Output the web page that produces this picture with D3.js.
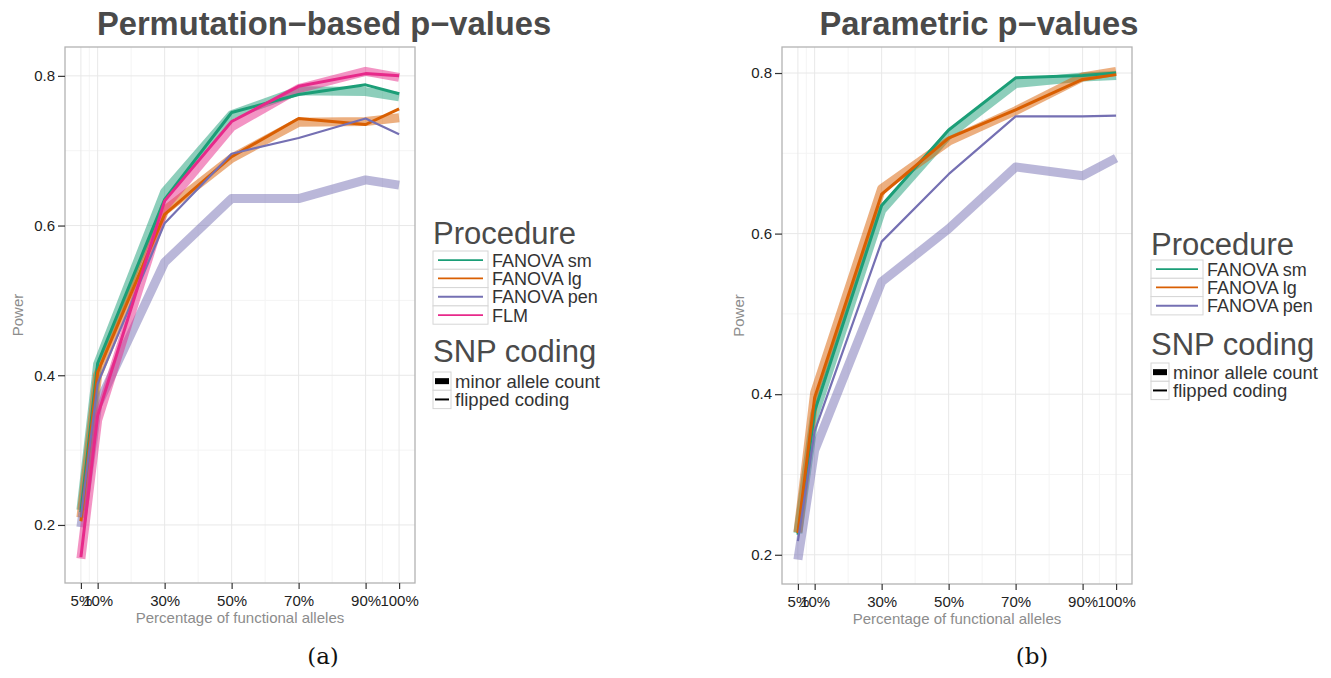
<!DOCTYPE html>
<html>
<head>
<meta charset="utf-8">
<script src="https://cdn.jsdelivr.net/npm/d3@7"></script>
<style>
  body { margin: 0; background: #fff; }
  svg { font-family: "Liberation Sans", Arial, sans-serif; }
</style>
</head>
<body>
<svg id="chart" width="1331" height="678"></svg>
<script>
// ---- data ----
const pctBreaks = [5, 10, 30, 50, 70, 90, 100];
const pctLabels = ["5%", "10%", "30%", "50%", "70%", "90%", "100%"];
const pctMinor = [7.5, 20, 40, 60, 80, 95];
const powerBreaks = [0.2, 0.4, 0.6, 0.8];
const powerMinor = [0.3, 0.5, 0.7];

const procedures = ["FANOVA sm", "FANOVA lg", "FANOVA pen", "FLM"];
const codings = ["minor allele count", "flipped coding"];

// permutation-based p-values
const permSmMinor    = [0.220, 0.415, 0.645, 0.748, 0.780, 0.779, 0.772];
const permSmFlipped  = [0.217, 0.416, 0.635, 0.751, 0.775, 0.788, 0.776];
const permLgMinor    = [0.210, 0.400, 0.620, 0.690, 0.738, 0.739, 0.744];
const permLgFlipped  = [0.205, 0.404, 0.615, 0.692, 0.743, 0.735, 0.756];
const permPenMinor   = [0.197, 0.360, 0.551, 0.636, 0.636, 0.661, 0.654];
const permPenFlipped = [0.210, 0.389, 0.603, 0.696, 0.717, 0.743, 0.722];
const permFlmMinor   = [0.155, 0.340, 0.625, 0.732, 0.783, 0.806, 0.798];
const permFlmFlipped = [0.157, 0.346, 0.633, 0.739, 0.786, 0.803, 0.800];

// parametric p-values
const paraSmMinor    = [0.227, 0.375, 0.629, 0.723, 0.787, 0.795, 0.797];
const paraSmFlipped  = [0.225, 0.379, 0.635, 0.729, 0.794, 0.797, 0.800];
const paraLgMinor    = [0.228, 0.402, 0.656, 0.715, 0.753, 0.795, 0.802];
const paraLgFlipped  = [0.227, 0.396, 0.649, 0.719, 0.754, 0.792, 0.798];
const paraPenMinor   = [0.194, 0.330, 0.540, 0.606, 0.683, 0.672, 0.694];
const paraPenFlipped = [0.217, 0.354, 0.590, 0.674, 0.746, 0.746, 0.747];

const procColors = {"FANOVA sm": "#1B9E77", "FANOVA lg": "#D95F02", "FANOVA pen": "#7570B3", "FLM": "#E7298A"};

function makeSeries(rows) {
  // rows: [procedure, coding, values]
  return rows.map(([procedure, coding, values]) => ({
    procedure, coding,
    points: values.map((v, i) => ({pct: pctBreaks[i], power: v}))
  }));
}

const permData = makeSeries([
  ["FANOVA sm", codings[0], permSmMinor], ["FANOVA lg", codings[0], permLgMinor],
  ["FANOVA pen", codings[0], permPenMinor], ["FLM", codings[0], permFlmMinor],
  ["FANOVA sm", codings[1], permSmFlipped], ["FANOVA lg", codings[1], permLgFlipped],
  ["FANOVA pen", codings[1], permPenFlipped], ["FLM", codings[1], permFlmFlipped]
]);
const paraData = makeSeries([
  ["FANOVA sm", codings[0], paraSmMinor], ["FANOVA lg", codings[0], paraLgMinor],
  ["FANOVA pen", codings[0], paraPenMinor],
  ["FANOVA sm", codings[1], paraSmFlipped], ["FANOVA lg", codings[1], paraLgFlipped],
  ["FANOVA pen", codings[1], paraPenFlipped]
]);

class PowerPanel {

  constructor(_config, _data) {
    this.config = {
      svg: _config.svg,
      left: _config.left,
      top: _config.top,
      width: _config.width,
      height: _config.height,
      title: _config.title,
      titleX: _config.titleX,
      caption: _config.caption,
      captionX: _config.captionX,
      powerX: _config.powerX,
      legend: _config.legend
    }
    this.data = _data;
    this.initVis();
  }

  initVis() {
    let vis = this;
    let c = vis.config;
    vis.g = c.svg.append('g')
        .attr('transform', `translate(${c.left},${c.top})`);

    // ggplot style 5% expansion
    const expand = ext => {
      const r = ext[1] - ext[0];
      return [ext[0] - r * 0.05, ext[1] + r * 0.05];
    };
    vis.xScale = d3.scaleLinear()
        .domain(expand(d3.extent(pctBreaks)))
        .range([0, c.width]);
    const allPower = vis.data.flatMap(s => s.points.map(p => p.power));
    vis.yScale = d3.scaleLinear()
        .domain(expand(d3.extent(allPower)))
        .range([c.height, 0]);

    // grid
    vis.g.selectAll('.xminor').data(pctMinor).join('line')
        .attr('x1', d => vis.xScale(d)).attr('x2', d => vis.xScale(d))
        .attr('y1', 0).attr('y2', c.height)
        .attr('stroke', '#f4f4f4').attr('stroke-width', 1);
    vis.g.selectAll('.yminor').data(powerMinor).join('line')
        .attr('y1', d => vis.yScale(d)).attr('y2', d => vis.yScale(d))
        .attr('x1', 0).attr('x2', c.width)
        .attr('stroke', '#f4f4f4').attr('stroke-width', 1);
    vis.g.selectAll('.xmajor').data(pctBreaks).join('line')
        .attr('x1', d => vis.xScale(d)).attr('x2', d => vis.xScale(d))
        .attr('y1', 0).attr('y2', c.height)
        .attr('stroke', '#e8e8e8').attr('stroke-width', 1);
    vis.g.selectAll('.ymajor').data(powerBreaks).join('line')
        .attr('y1', d => vis.yScale(d)).attr('y2', d => vis.yScale(d))
        .attr('x1', 0).attr('x2', c.width)
        .attr('stroke', '#e8e8e8').attr('stroke-width', 1);

    vis.renderVis();
  }

  renderVis() {
    let vis = this;
    let c = vis.config;

    const line = d3.line()
        .x(d => vis.xScale(d.pct))
        .y(d => vis.yScale(d.power));

    // thick translucent = minor allele count, thin = flipped coding
    vis.g.selectAll('.series')
        .data(vis.data)
        .join('path')
        .attr('class', 'series')
        .attr('d', d => line(d.points))
        .attr('fill', 'none')
        .attr('stroke', d => procColors[d.procedure])
        .attr('stroke-opacity', d => d.coding === codings[0] ? 0.5 : 1)
        .attr('stroke-width', d => d.coding === codings[0] ? 9 : (d.procedure === "FANOVA pen" ? 2.2 : 3))
        .attr('stroke-linejoin', 'round');

    // panel border
    vis.g.append('rect')
        .attr('width', c.width).attr('height', c.height)
        .attr('fill', 'none').attr('stroke', '#b3b3b3').attr('stroke-width', 1.3);

    // axes
    const yAxis = d3.axisLeft(vis.yScale)
        .tickValues(powerBreaks).tickFormat(d3.format('.1f'))
        .tickSize(7).tickPadding(3);
    const xAxis = d3.axisBottom(vis.xScale)
        .tickValues(pctBreaks).tickFormat((d, i) => pctLabels[i])
        .tickSize(6).tickPadding(6);

    vis.g.append('g').call(yAxis)
        .call(g => g.select('.domain').remove())
        .call(g => g.selectAll('line').attr('stroke', '#333').attr('stroke-width', 1.2))
        .call(g => g.selectAll('text').attr('font-size', 15).attr('fill', '#222')
            .attr('font-family', '"Liberation Sans", Arial, sans-serif'));
    vis.g.append('g').attr('transform', `translate(0,${c.height})`).call(xAxis)
        .call(g => g.select('.domain').remove())
        .call(g => g.selectAll('line').attr('stroke', '#333').attr('stroke-width', 1.2))
        .call(g => g.selectAll('text').attr('font-size', 15).attr('fill', '#222')
            .attr('font-family', '"Liberation Sans", Arial, sans-serif'));

    vis.g.append('text')
        .attr('x', c.width / 2).attr('y', c.height + 40)
        .attr('text-anchor', 'middle')
        .attr('font-size', 15).attr('fill', '#8c8c8c')
        .text('Percentage of functional alleles');

    c.svg.append('text')
        .attr('transform', `translate(${c.powerX},${c.top + c.height / 2}) rotate(-90)`)
        .attr('text-anchor', 'middle')
        .attr('font-size', 15).attr('fill', '#8c8c8c')
        .text('Power');

    // title
    c.svg.append('text')
        .attr('x', c.titleX).attr('y', 35)
        .attr('text-anchor', 'middle')
        .attr('font-size', 32.7).attr('font-weight', 'bold').attr('fill', '#4a4a4a')
        .text(c.title);

    // caption
    c.svg.append('text')
        .attr('x', c.captionX).attr('y', 664)
        .attr('text-anchor', 'middle')
        .attr('font-family', '"DejaVu Serif", "Liberation Serif", serif')
        .attr('font-size', 23).attr('fill', '#111')
        .text(c.caption);

    vis.renderLegend();
  }

  renderLegend() {
    let vis = this;
    let L = vis.config.legend;
    let svg = vis.config.svg;
    const rowH = 18.3;
    const procs = procedures.filter(p => vis.data.some(s => s.procedure === p));

    const lg = svg.append('g').attr('transform', `translate(${L.x},0)`);
    lg.append('text').attr('x', 0).attr('y', L.procTitleY)
        .attr('font-size', 31).attr('fill', '#4a4a4a').text('Procedure');

    const procRows = lg.selectAll('.procRow').data(procs).join('g')
        .attr('transform', (d, i) => `translate(0,${L.procTop + i * rowH})`);
    procRows.append('rect')
        .attr('width', L.keyW).attr('height', rowH)
        .attr('fill', '#fff').attr('stroke', '#d6d6d6').attr('stroke-width', 1);
    procRows.append('line')
        .attr('x1', 5).attr('x2', L.keyW - 5)
        .attr('y1', rowH / 2).attr('y2', rowH / 2)
        .attr('stroke', d => procColors[d]).attr('stroke-width', 1.8);
    procRows.append('text')
        .attr('x', L.keyW + 4).attr('y', rowH / 2 + 6.5)
        .attr('font-size', 18).attr('fill', '#333').text(d => d);

    lg.append('text').attr('x', 0).attr('y', L.snpTitleY)
        .attr('font-size', 31).attr('fill', '#4a4a4a').text('SNP coding');

    const snpRows = lg.selectAll('.snpRow').data(codings).join('g')
        .attr('transform', (d, i) => `translate(0,${L.snpTop + i * rowH})`);
    snpRows.append('rect')
        .attr('width', 18).attr('height', rowH)
        .attr('fill', '#fff').attr('stroke', '#d6d6d6').attr('stroke-width', 1);
    snpRows.append('line')
        .attr('x1', 2).attr('x2', 16)
        .attr('y1', rowH / 2).attr('y2', rowH / 2)
        .attr('stroke', '#000').attr('stroke-width', (d, i) => i === 0 ? 6 : 2);
    snpRows.append('text')
        .attr('x', 22).attr('y', rowH / 2 + 6.5)
        .attr('font-size', 18.5).attr('fill', '#333').text(d => d);
  }
}

const svg = d3.select('#chart');

new PowerPanel({
  svg: svg, left: 65, top: 47, width: 350, height: 536,
  title: 'Permutation\u2212based p\u2212values', titleX: 324,
  caption: '(a)', captionX: 323, powerX: 23,
  legend: {x: 433, procTitleY: 244, procTop: 251, keyW: 55, snpTitleY: 362, snpTop: 372}
}, permData);

new PowerPanel({
  svg: svg, left: 782, top: 47, width: 350, height: 537,
  title: 'Parametric p\u2212values', titleX: 979,
  caption: '(b)', captionX: 1032, powerX: 744,
  legend: {x: 1151, procTitleY: 255, procTop: 260, keyW: 52, snpTitleY: 355, snpTop: 363}
}, paraData);
</script>
</body>
</html>
